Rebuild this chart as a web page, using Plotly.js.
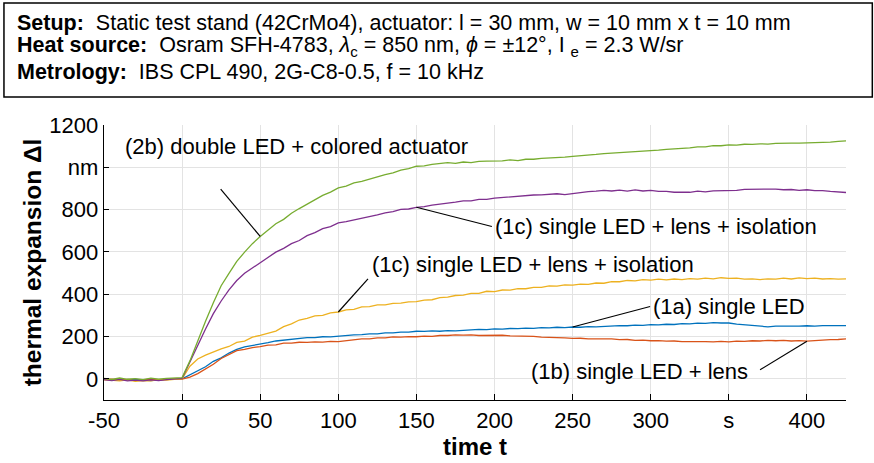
<!DOCTYPE html>
<html>
<head>
<meta charset="utf-8">
<script src="https://cdn.plot.ly/plotly-3.0.1.min.js"></script>
<style>html,body{margin:0;padding:0;background:#fff;}#chart{width:874px;height:463px;}</style>
</head>
<body>
<div id="chart"></div>
<script>
// time in s
const time = [-50,-45,-40,-35,-30,-25,-20,-15,-10,-5,0,
  5,10,15,20,25,30,35,40,45,50,55,60,65,70,75,80,85,90,95,100,
  105,110,115,120,125,130,135,140,145,150,155,160,165,170,175,180,185,190,195,200,
  205,210,215,220,225,230,235,240,245,250,255,260,265,270,275,280,285,290,295,300,
  305,310,315,320,325,330,335,340,345,350,355,360,365,370,375,380,385,390,395,400,
  405,410,415,420,425];

// thermal expansion in nm
const led1a = [-2,-5,0,-6,-3,-4,-8,-5,-2,1,0,
  20,41,57,83,99,122,139,151,157,166,171,179,183,189,191,195,195,199,198,202,
  203,208,209,213,213,217,217,221,221,225,224,227,225,228,227,230,230,234,233,236,
  235,238,237,240,239,242,241,244,242,245,244,247,246,249,249,252,251,254,253,256,
  255,258,257,261,260,263,262,266,264,264,259,256,250,249,246,249,248,250,249,251,
  249,252,251,253,252];
const led1b = [-4,-2,-6,-3,-8,-5,-2,-6,-3,0,-1,
  8,25,46,69,96,114,133,139,148,152,159,161,169,169,173,172,175,174,177,176,
  181,183,189,189,194,194,198,197,200,199,202,201,205,205,208,207,208,205,206,204,
  206,203,203,200,201,197,197,194,194,191,192,189,190,188,189,185,186,182,183,180,
  181,178,179,176,177,175,176,175,177,175,178,177,180,179,182,180,182,179,181,178,
  181,181,185,186,189];
const led1c = [-3,-6,-9,-5,-12,-8,-10,-4,-6,-2,0,
  60,94,112,127,142,153,172,178,197,206,216,226,247,260,278,286,298,300,312,316,
  326,328,340,341,350,350,357,358,364,365,372,374,384,386,394,396,404,404,414,412,
  420,419,426,426,432,432,439,438,444,443,448,447,453,452,460,459,465,463,469,467,
  471,468,472,469,474,471,476,473,478,475,476,471,473,469,473,471,476,472,477,474,
  476,472,474,471,473];
const led1cTop = [-4,-8,-3,-10,-6,-9,-5,-8,-4,-2,2,
  80,160,236,308,368,421,465,499,525,548,573,599,617,639,654,677,691,710,720,737,
  743,751,757,765,775,785,790,801,803,811,814,821,825,831,835,841,841,848,848,854,
  857,863,864,868,869,870,871,875,871,876,878,885,887,891,888,892,887,893,888,891,
  886,886,882,882,882,887,884,889,889,891,891,896,896,899,897,897,894,895,891,894,
  890,890,886,885,881];
const led2b = [2,-3,4,-2,1,-4,3,-1,2,4,6,
  85,180,272,360,440,499,555,599,639,673,703,733,754,783,805,827,845,867,883,903,
  911,926,933,945,955,965,974,987,994,1005,1007,1014,1017,1022,1019,1025,1022,1028,1029,1029,
  1030,1035,1032,1038,1038,1042,1043,1047,1048,1052,1054,1059,1061,1065,1067,1071,1071,1075,1076,1080,
  1081,1085,1087,1091,1092,1097,1097,1102,1102,1106,1105,1109,1108,1111,1110,1113,1112,1114,1114,1115,
  1115,1119,1119,1123,1125];

const seriesNames = ['(1a) single LED','(1b) single LED + lens','(1c) single LED + lens + isolation',
  '(1c) single LED + lens + isolation','(2b) double LED + colored actuator'];
const seriesData = [led1a, led1b, led1c, led1cTop, led2b];
const seriesColors = ['#0072BD','#D95319','#EDB120','#7E2F8E','#77AC30'];

const xTickVals = [-50,0,50,100,150,200,250,300,350,400];
const xTickText = ['-50','0','50','100','150','200','250','300','s','400'];
const yTickVals = [0,200,400,600,800,1000,1200];
const yTickText = ['0','200','400','600','800','nm','1200'];

// label text, label anchor (t, nm), leader tail (t, nm), leader tip time
const labelSeries = [4, 3, 2, 0, 1];
const labelPos = [[-38,1097],[199,719],[120,539],[300,340],[222,33]];
const leaderTail = [[24.7,897],[198.3,720],[119,473],[299.6,342],[370,43]];
const leaderTipTime = [50,150,100,250,400];

const SP = '\u00A0 ';
const infoLines = [
  '<b>Setup:</b>' + SP + 'Static test stand (42CrMo4), actuator: l = 30 mm, w = 10 mm x t = 10 mm',
  '<b>Heat source:</b>' + SP + 'Osram SFH-4783, <i>λ</i><sub>c</sub> = 850 nm, <i>ϕ</i> = ±12°, I <sub>e</sub> = 2.3 W/sr',
  '<b>Metrology:</b>' + SP + 'IBS CPL 490, 2G-C8-0.5, f = 10 kHz'
];

const FONT = 'Liberation Sans, Arial, Helvetica, sans-serif';

const traces = seriesData.map((d,i)=>({
  x: time, y: d, type:'scatter', mode:'lines', name: seriesNames[i],
  line:{color:seriesColors[i], width:1.3}, hoverinfo:'skip'
}));

function valueAt(arr, t){ const k = time.indexOf(t); return arr[k]; }

const shapes = [];
const annotations = [];
labelSeries.forEach((s,i)=>{
  annotations.push({xref:'x', yref:'y', x:labelPos[i][0], y:labelPos[i][1], text:seriesNames[s],
    showarrow:false, xanchor:'left', yanchor:'middle', font:{family:FONT, size:22, color:'#000'}});
  shapes.push({type:'line', xref:'x', yref:'y', x0:leaderTail[i][0], y0:leaderTail[i][1],
    x1:leaderTipTime[i], y1:valueAt(seriesData[s], leaderTipTime[i]), line:{color:'#000', width:1.2}});
});

// info box
const L=104, R=845.7, T=125, B=400;
const W=R-L, H=B-T;
const px=(v)=>(v-L)/W, py=(v)=>(B-v)/H;
shapes.push({type:'rect', xref:'paper', yref:'paper', x0:px(4), x1:px(872), y0:py(97), y1:py(3),
  line:{color:'#000', width:1.5}, fillcolor:'rgba(0,0,0,0)'});
const lineY=[23,47,72];
infoLines.forEach((t,i)=>{
  annotations.push({xref:'paper', yref:'paper', x:px(15), y:py(lineY[i]), text:t, showarrow:false,
    xanchor:'left', yanchor:'middle', align:'left', font:{family:FONT, size:21.5, color:'#000'}});
});

const layout = {
  width:874, height:463,
  margin:{l:L, r:874-R, t:T, b:463-B},
  paper_bgcolor:'#fff', plot_bgcolor:'#fff',
  showlegend:false,
  font:{family:FONT, size:22, color:'#000'},
  xaxis:{range:[-50,425], tickvals:xTickVals, ticktext:xTickText, ticks:'inside', ticklen:6,
    tickcolor:'#000', showline:true, linecolor:'#000', linewidth:1.3, showgrid:true, gridcolor:'#e3e3e3',
    zeroline:false, tickfont:{family:FONT, size:22},
    title:{text:'<b>time t</b>', font:{family:FONT, size:24}, standoff:2}},
  yaxis:{range:[-100,1200], tickvals:yTickVals, ticktext:yTickText, ticks:'inside', ticklen:5,
    tickcolor:'#000', showline:true, linecolor:'#000', linewidth:1.3, showgrid:true, gridcolor:'#e3e3e3',
    zeroline:false, tickfont:{family:FONT, size:22},
    title:{text:'<b>thermal expansion Δl</b>', font:{family:FONT, size:24.5}, standoff:0}},
  shapes: shapes,
  annotations: annotations
};

Plotly.newPlot('chart', traces, layout, {staticPlot:true});
</script>
</body>
</html>
